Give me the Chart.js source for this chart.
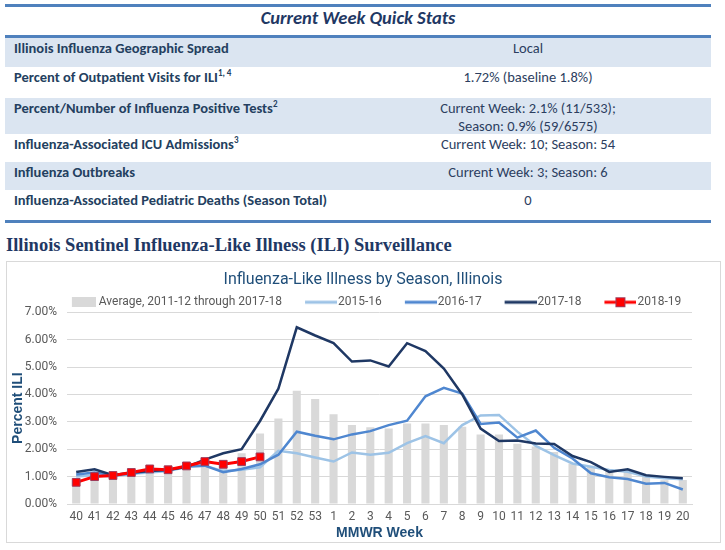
<!DOCTYPE html>
<html>
<head>
<meta charset="utf-8">
<title>Influenza-Like Illness by Season, Illinois</title>
<script src="https://cdn.jsdelivr.net/npm/chart.js@4.4.1/dist/chart.umd.min.js"></script>
<style>
  body { margin: 0; background: #fff; width: 725px; height: 550px; position: relative; overflow: hidden; }
  .stats { position: absolute; left: 5px; top: 4px; width: 706px; font-family: Carlito, Lato, sans-serif; color: #243f60; }
  .rule { position: absolute; left: 0; width: 706px; height: 3px; background: #4f81bd; }
  .head { position: absolute; left: 0; width: 706px; top: 2px; text-align: center; font-weight: bold; font-style: italic; font-size: 18.5px; color: #1f3864; }
  .row { position: absolute; left: 0; width: 706px; }
  .row.shade { background: #dbe5f1; }
  .row .k { position: absolute; left: 9px; top: 1px; font-weight: bold; font-size: 14.5px; }
  .row .v { position: absolute; left: 380px; width: 286px; top: 1px; text-align: center; font-size: 14.5px; line-height: 18px; color: #2c3e60; }
  sup { font-size: 9px; vertical-align: 6px; line-height: 0; }
  .section { position: absolute; left: 6px; top: 235px; font-family: "Liberation Serif", "DejaVu Serif", serif; font-weight: bold; font-size: 18.5px; color: #1f3864; }
  .box { position: absolute; left: 6px; top: 261px; width: 715px; height: 282px; border: 1px solid #d9d9d9; box-sizing: border-box; }
  #wrap { position: absolute; left: 7px; top: 262px; width: 713px; height: 280px; }
</style>
</head>
<body>
<div class="stats">
  <div class="rule" style="top:0"></div>
  <div class="head">Current Week Quick Stats</div>
  <div class="rule" style="top:31px"></div>
  <div class="row shade" style="top:34px;height:29px"><div class="k">Illinois Influenza Geographic Spread</div><div class="v">Local</div></div>
  <div class="row" style="top:63px;height:31px"><div class="k">Percent of Outpatient Visits for ILI<sup>1, 4</sup></div><div class="v">1.72% (baseline 1.8%)</div></div>
  <div class="row shade" style="top:94px;height:36px"><div class="k">Percent/Number of Influenza Positive Tests<sup>2</sup></div><div class="v">Current Week: 2.1% (11/533);<br>Season: 0.9% (59/6575)</div></div>
  <div class="row" style="top:130px;height:28px"><div class="k">Influenza-Associated ICU Admissions<sup>3</sup></div><div class="v">Current Week: 10; Season: 54</div></div>
  <div class="row shade" style="top:158px;height:28px"><div class="k">Influenza Outbreaks</div><div class="v">Current Week: 3; Season: 6</div></div>
  <div class="row" style="top:186px;height:28px"><div class="k">Influenza-Associated Pediatric Deaths (Season Total)</div><div class="v">0</div></div>
  <div class="rule" style="top:216px"></div>
</div>
<div class="section">Illinois Sentinel Influenza-Like Illness (ILI) Surveillance</div>
<div class="box"></div>
<div id="wrap"><canvas id="iliChart"></canvas></div>

<script>
// MMWR weeks, season runs week 40 through week 20
const weeks = ["40","41","42","43","44","45","46","47","48","49","50","51","52","53",
  "1","2","3","4","5","6","7","8","9","10","11","12","13","14","15","16","17","18","19","20"];

const average = [0.85,0.95,1.00,1.05,1.15,1.20,1.30,1.45,1.55,1.85,2.57,3.12,4.13,3.83,
  3.28,2.88,2.80,2.76,2.94,2.94,2.88,2.82,2.54,2.54,2.20,2.10,1.90,1.48,1.40,1.24,1.18,1.00,0.87,0.88];

const season1516 = [1.00,1.05,1.00,1.10,1.15,1.20,1.35,1.40,1.20,1.25,1.34,1.94,1.85,1.70,
  1.55,1.88,1.80,1.87,2.22,2.48,2.22,2.88,3.23,3.25,2.64,2.12,1.78,1.48,1.36,1.24,1.18,1.00,0.94,0.90];

const season1617 = [1.08,1.15,1.05,1.10,1.20,1.22,1.38,1.40,1.16,1.28,1.45,1.80,2.64,2.49,
  2.36,2.54,2.66,2.88,3.04,3.93,4.24,4.03,2.92,2.97,2.42,2.68,2.05,1.66,1.12,0.98,0.91,0.74,0.77,0.53];

const season1718 = [1.17,1.27,1.05,1.15,1.20,1.25,1.35,1.62,1.85,2.00,3.03,4.21,6.45,6.15,
  5.87,5.20,5.24,5.02,5.87,5.58,4.94,4.00,2.75,2.30,2.32,2.21,2.19,1.75,1.53,1.17,1.27,1.05,0.99,0.94];

// current season, reported so far
const season1819 = [0.79,1.00,1.04,1.15,1.28,1.25,1.39,1.55,1.45,1.55,1.72];

const yTicks = [0,1,2,3,4,5,6,7];

const FONT = "Roboto, 'Liberation Sans', sans-serif";

// legend pictures: drawn a bit right of centre so they sit close to their text
function legendIcon(color, withSquare) {
  let c = document.createElement("canvas");
  c.width = 58; c.height = 12;
  let g = c.getContext("2d");
  g.strokeStyle = color;
  g.lineWidth = 3;
  g.beginPath(); g.moveTo(26, 6); g.lineTo(58, 6); g.stroke();
  if (withSquare) {
    g.fillStyle = "#ff0000";
    g.strokeStyle = "#9e3b5b";
    g.lineWidth = 1;
    g.fillRect(37, 1, 10, 10);
    g.strokeRect(37.5, 1.5, 9, 9);
  }
  return c;
}
function legendBox() {
  let c = document.createElement("canvas");
  c.width = 54; c.height = 10;
  let g = c.getContext("2d");
  g.fillStyle = "#d9d9d9";
  g.fillRect(30, 0, 24, 10);
  return c;
}

const icons = [legendBox(), legendIcon("#9dc3e6"), legendIcon("#4f87d0"), legendIcon("#1f3864"), legendIcon("#ff0000", true)];

let ctx = document.getElementById("iliChart").getContext("2d");

new Chart(ctx, {
  type: "bar",
  data: {
    labels: weeks,
    datasets: [
      { label: "Average, 2011-12 through 2017-18", data: average, backgroundColor: "#d9d9d9",
        barPercentage: 0.44, categoryPercentage: 1, order: 5 },
      { type: "line", label: "2015-16", data: season1516, borderColor: "#9dc3e6", borderWidth: 2.5,
        pointRadius: 0, tension: 0, order: 4 },
      { type: "line", label: "2016-17", data: season1617, borderColor: "#4f87d0", borderWidth: 2.5,
        pointRadius: 0, tension: 0, order: 3 },
      { type: "line", label: "2017-18", data: season1718, borderColor: "#1f3864", borderWidth: 2.5,
        pointRadius: 0, tension: 0, order: 2 },
      { type: "line", label: "2018-19", data: season1819, borderColor: "#ff0000", borderWidth: 3,
        backgroundColor: "#ff0000", pointBorderColor: "#9e3b5b", pointBorderWidth: 1,
        pointStyle: "rect", pointRadius: 5.5, tension: 0, order: 1 }
    ]
  },
  options: {
    responsive: true,
    maintainAspectRatio: false,
    animation: false,
    layout: { padding: { left: 3, right: 4, top: 4, bottom: 0 } },
    plugins: {
      tooltip: { enabled: false },
      title: {
        display: true,
        text: "Influenza-Like Illness by Season, Illinois",
        color: "#1f4e79",
        font: { family: FONT, size: 16, weight: "normal" },
        padding: { top: 4, bottom: 5 }
      },
      legend: {
        position: "top",
        maxHeight: 18,
        labels: {
          usePointStyle: true,
          pointStyleWidth: 48,
          color: "#595959",
          font: { family: FONT, size: 12 },
          padding: 2,
          boxHeight: 12,
          sort: (a, b) => a.datasetIndex - b.datasetIndex,
          generateLabels: function(chart) {
            return chart.data.datasets.map((ds, i) => ({
              text: ds.label,
              pointStyle: icons[i],
              fillStyle: "transparent",
              strokeStyle: "transparent",
              lineWidth: 0,
              fontColor: "#595959",
              datasetIndex: i,
              hidden: false
            }));
          }
        }
      }
    },
    scales: {
      x: {
        grid: { display: false, drawTicks: false },
        border: { color: "#d9d9d9" },
        afterFit: axis => { axis.height = 38; },
        ticks: { color: "#595959", font: { family: FONT, size: 12 }, maxRotation: 0, autoSkip: false, padding: 6 },
        title: { display: true, text: "MMWR Week", color: "#1f4e79",
          font: { family: "'Liberation Sans', Arial, sans-serif", size: 14, weight: "bold" }, padding: { top: 0, bottom: 0 } }
      },
      y: {
        min: 0,
        max: 7,
        afterBuildTicks: axis => { axis.ticks = yTicks.map(v => ({ value: v })); },
        afterFit: axis => { axis.width = 57; },
        grid: { color: "#d9d9d9", drawTicks: false },
        border: { display: false },
        ticks: { color: "#595959", font: { family: FONT, size: 12 }, padding: 10, autoSkip: false,
          callback: v => v.toFixed(2) + "%" },
        title: { display: true, text: "Percent ILI", color: "#1f4e79",
          font: { family: "'Liberation Sans', Arial, sans-serif", size: 14, weight: "bold" }, padding: { top: 0, bottom: 0 } }
      },
      // empty strip on the right so the plot ends where the original does
      pad: {
        type: "linear",
        position: "right",
        grid: { display: false },
        border: { display: false },
        ticks: { display: false },
        afterFit: axis => { axis.width = 24; }
      }
    }
  }
});
</script>
</body>
</html>
